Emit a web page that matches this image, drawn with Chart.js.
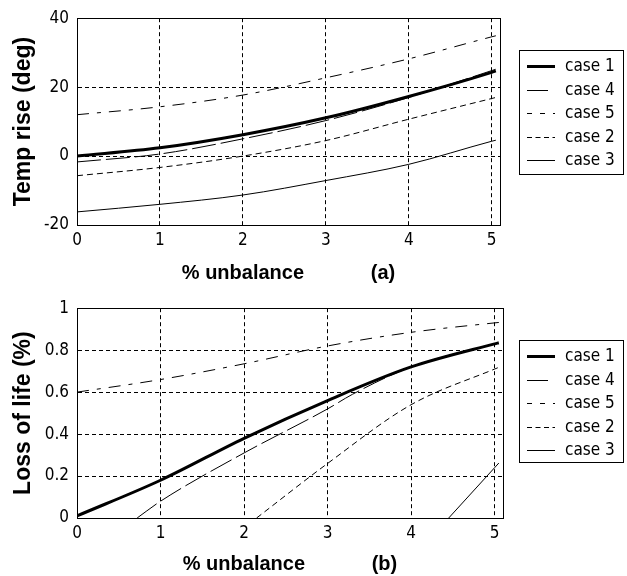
<!DOCTYPE html>
<html><head><meta charset="utf-8">
<script src="https://cdn.jsdelivr.net/npm/chart.js@4.4.1/dist/chart.umd.min.js"></script>
<style>
html,body{margin:0;padding:0;background:#fff;}
#wrap{position:relative;width:627px;height:576px;background:#fff;}
.c{position:absolute;left:0;}
</style></head><body>
<div id="wrap">
<div class="c" style="top:0;width:627px;height:290px"><canvas id="ca"></canvas></div>
<div class="c" style="top:290px;width:627px;height:286px"><canvas id="cb"></canvas></div>
</div>
<script>
// ---- data ----
const seriesNames = ['case 1', 'case 4', 'case 5', 'case 2', 'case 3'];
const xTicks = [0, 1, 2, 3, 4, 5];
const yTicksTemp = [-20, 0, 20, 40];
const yTicksLoss = [0, 0.2, 0.4, 0.6, 0.8, 1];

// (a) Temp rise (deg)
const tempX = [0, 1, 2, 3, 4, 5, 5.05];
const tempCase1 = [0, 2.4, 6.2, 11.1, 17.3, 24.3, 24.7];
const tempCase4 = [-1.7, 0.6, 5.0, 10.3, 17.0, 24.8, 25.2];
const tempCase5 = [12.0, 14.3, 17.7, 22.7, 28.2, 34.6, 34.9];
const tempCase2 = [-5.7, -3.3, 0, 4.5, 10.7, 16.7, 17.0];
const tempCase3 = [-16.2, -14.0, -11.3, -7.1, -2.4, 4.3, 4.6];

// (b) Loss of life (%)
const lossX = [0, 1, 2, 3, 4, 5, 5.05];
const lossCase1 = [0.01, 0.18, 0.38, 0.56, 0.72, 0.83, 0.835];
const lossCase4X = [0.72, 1, 2, 3, 3.3, 4, 5, 5.05];
const lossCase4 = [0, 0.08, 0.31, 0.52, 0.59, 0.72, 0.83, 0.835];
const lossCase5 = [0.6, 0.66, 0.735, 0.82, 0.885, 0.93, 0.932];
const lossCase2X = [2.15, 3, 4, 5, 5.05];
const lossCase2 = [0, 0.26, 0.54, 0.71, 0.718];
const lossCase3X = [4.45, 5, 5.05];
const lossCase3 = [0, 0.24, 0.262];

// ---- styles ----
const lineWidths = [3, 1, 1, 1, 1];
const plotDash = [[], [24, 5], [12, 8, 4, 8], [6, 4], []];
const legendDash = [[], [21, 10], [5, 8], [5, 3.5], []];
const narrow = "'Liberation Sans Narrow', 'Arial Narrow', 'DejaVu Sans Condensed', sans-serif";
const sans = "'Liberation Sans', Arial, Helvetica, sans-serif";

function pts(xs, ys) { return xs.map((x, i) => ({ x: x, y: ys[i] })); }
function makeDatasets(list) {
  return list.map((d, i) => ({
    label: seriesNames[i],
    data: pts(d[0], d[1]),
    borderColor: '#000',
    backgroundColor: '#000',
    borderWidth: lineWidths[i],
    borderDash: plotDash[i],
    pointRadius: 0,
    fill: false,
    cubicInterpolationMode: 'monotone'
  }));
}

const boxPlugin = {
  id: 'boxPlugin',
  afterDraw(chart) {
    const { ctx, chartArea: a } = chart;
    ctx.save();
    ctx.strokeStyle = '#000';
    ctx.lineWidth = 1;
    ctx.setLineDash([]);
    ctx.strokeRect(Math.round(a.left) + 0.5, Math.round(a.top) + 0.5,
      Math.round(a.right - a.left), Math.round(a.bottom - a.top));
    ctx.restore();
  }
};

const legendPlugin = {
  id: 'caseLegend',
  afterDraw(chart, args, opts) {
    const ctx = chart.ctx;
    const bx = opts.x, by = opts.y, bw = opts.w, bh = opts.h;
    ctx.save();
    ctx.fillStyle = '#fff';
    ctx.fillRect(bx, by, bw, bh);
    ctx.strokeStyle = '#000';
    ctx.lineWidth = 1;
    ctx.setLineDash([]);
    ctx.strokeRect(bx + 0.5, by + 0.5, bw, bh);
    chart.data.datasets.forEach((ds, i) => {
      const y = by + opts.firstRow + i * opts.rowGap;
      ctx.beginPath();
      ctx.lineWidth = ds.borderWidth;
      ctx.setLineDash(legendDash[i]);
      const yy = ds.borderWidth % 2 ? Math.round(y) + 0.5 : Math.round(y);
      ctx.moveTo(bx + 8, yy);
      ctx.lineTo(bx + 36, yy);
      ctx.stroke();
      ctx.setLineDash([]);
      ctx.fillStyle = '#000';
      ctx.font = '17px ' + narrow;
      ctx.textBaseline = 'middle';
      ctx.textAlign = 'left';
      ctx.fillText(ds.label, bx + 46, y + 1);
    });
    ctx.restore();
  }
};

function makeChart(id, datasets, cfg) {
  return new Chart(document.getElementById(id), {
    type: 'line',
    data: { datasets: datasets },
    options: {
      responsive: true,
      maintainAspectRatio: false,
      animation: false,
      devicePixelRatio: 1,
      layout: { padding: { top: cfg.padTop, right: cfg.padRight, left: 0, bottom: 0 } },
      plugins: {
        legend: { display: false },
        tooltip: { enabled: false },
        caseLegend: { x: 519, y: 50, w: 104, h: cfg.legendH, firstRow: 16, rowGap: 23.5 }
      },
      scales: {
        x: {
          type: 'linear', min: 0, max: 5.1,
          afterFit: s => { s.height = cfg.xAxisH; },
          afterBuildTicks: s => { s.ticks = xTicks.map(v => ({ value: v })); },
          ticks: { font: { family: narrow, size: 17 }, color: '#000', padding: 5, maxRotation: 0, autoSkip: false,
            callback: v => String(v) },
          grid: { color: '#000', lineWidth: 1, drawTicks: false },
          border: { display: true, color: '#000', width: 1, dash: [4, 3] },
          title: { display: true, text: cfg.xTitle, color: '#000',
            font: { family: sans, size: 20, weight: 'bold' }, padding: { top: 0, bottom: cfg.xTitlePad } }
        },
        y: {
          type: 'linear', min: cfg.yMin, max: cfg.yMax,
          afterFit: s => { s.width = 77; },
          afterBuildTicks: s => { s.ticks = cfg.yTicks.map(v => ({ value: v })); },
          ticks: { font: { family: narrow, size: 17 }, color: '#000', padding: 8, autoSkip: false,
            callback: v => String(Math.round(v * 10) / 10) },
          grid: { color: '#000', lineWidth: 1, drawTicks: false },
          border: { display: true, color: '#000', width: 1, dash: [4, 3] },
          title: { display: true, text: cfg.yTitle, color: '#000',
            font: { family: sans, size: 23, weight: 'bold' }, padding: { top: 10, bottom: 0 } }
        }
      }
    },
    plugins: [boxPlugin, legendPlugin]
  });
}

makeChart('ca', makeDatasets([
  [tempX, tempCase1], [tempX, tempCase4], [tempX, tempCase5], [tempX, tempCase2], [tempX, tempCase3]
]), {
  padTop: 15, padRight: 127, xAxisH: 65, xTitlePad: 5, legendH: 124,
  yMin: -20, yMax: 40, yTicks: yTicksTemp, yTitle: 'Temp rise (deg)',
  xTitle: '% unbalance            (a)'
});

makeChart('cb', makeDatasets([
  [lossX, lossCase1], [lossCase4X, lossCase4], [lossX, lossCase5], [lossCase2X, lossCase2], [lossCase3X, lossCase3]
]), {
  padTop: 16, padRight: 124, xAxisH: 58, xTitlePad: 0, legendH: 122,
  yMin: 0, yMax: 1, yTicks: yTicksLoss, yTitle: 'Loss of life (%)',
  xTitle: '% unbalance            (b)'
});
</script>
</body></html>
